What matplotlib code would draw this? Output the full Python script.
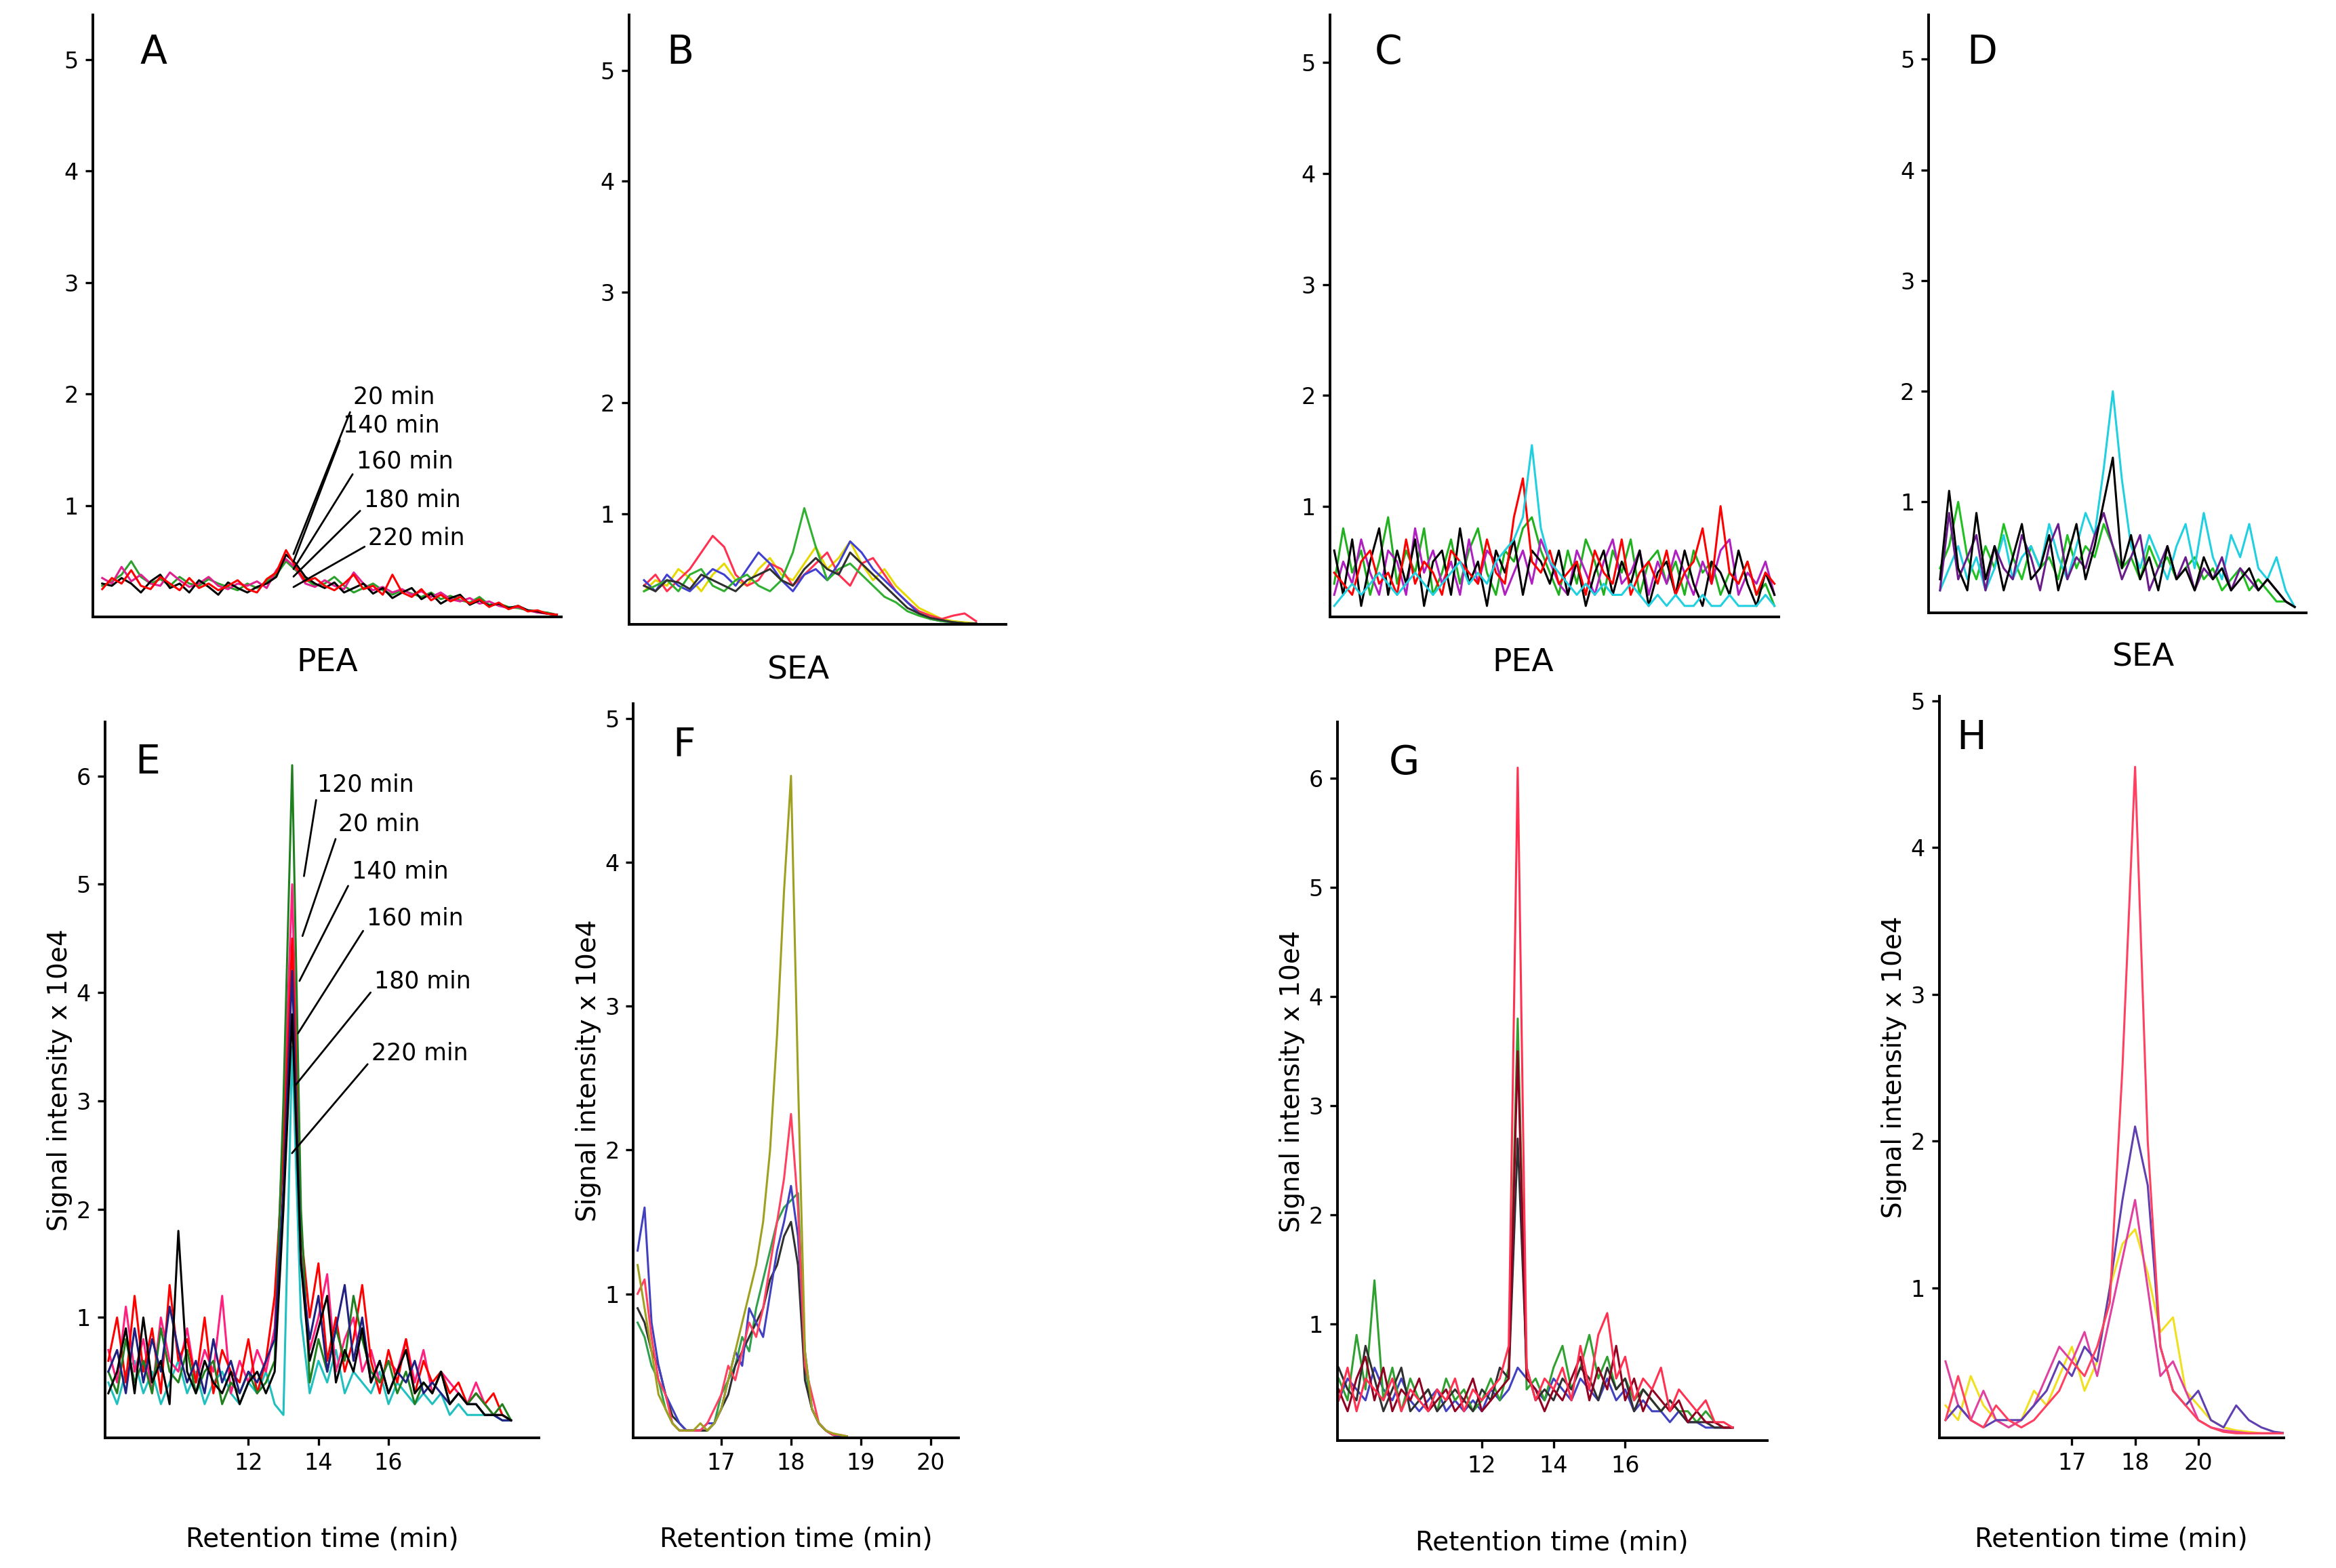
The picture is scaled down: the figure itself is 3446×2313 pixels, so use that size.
import numpy as np
import matplotlib
matplotlib.use("Agg")
import matplotlib.pyplot as plt

plt.rcParams['font.family'] = ['DejaVu Sans']

# ---------------- data ----------------
a_blk = [0.30,0.28,0.35,0.30,0.22,0.32,0.38,0.26,0.30,0.22,0.33,0.27,0.20,0.31,0.26,0.22,0.27,0.30,0.36,0.56,0.48,0.36,0.30,0.26,0.31,0.22,0.26,0.30,0.21,0.26,0.17,0.22,0.26,0.16,0.21,0.12,0.17,0.20,0.11,0.15,0.10,0.12,0.08,0.10,0.06,0.05,0.03,0.02]
a_red = [0.25,0.35,0.30,0.42,0.28,0.25,0.36,0.30,0.24,0.35,0.26,0.30,0.24,0.28,0.33,0.25,0.22,0.34,0.40,0.60,0.45,0.32,0.35,0.28,0.24,0.30,0.38,0.25,0.28,0.20,0.38,0.22,0.18,0.25,0.15,0.20,0.14,0.18,0.12,0.16,0.09,0.13,0.07,0.10,0.05,0.06,0.03,0.02]
a_mag = [0.35,0.30,0.45,0.32,0.38,0.30,0.28,0.40,0.33,0.27,0.30,0.36,0.28,0.25,0.30,0.28,0.32,0.26,0.42,0.52,0.44,0.30,0.27,0.33,0.28,0.25,0.40,0.30,0.24,0.27,0.22,0.25,0.20,0.23,0.18,0.22,0.16,0.14,0.17,0.12,0.14,0.10,0.08,0.09,0.06,0.04,0.03,0.02]
a_grn = [0.28,0.32,0.38,0.50,0.36,0.30,0.34,0.28,0.36,0.30,0.28,0.34,0.30,0.27,0.24,0.30,0.26,0.32,0.38,0.50,0.42,0.34,0.28,0.30,0.36,0.28,0.22,0.26,0.30,0.24,0.20,0.24,0.21,0.18,0.22,0.16,0.19,0.15,0.13,0.18,0.11,0.12,0.09,0.08,0.06,0.05,0.04,0.02]

b_yel = [0.30,0.40,0.35,0.50,0.42,0.30,0.45,0.55,0.40,0.35,0.50,0.60,0.45,0.40,0.55,0.70,0.50,0.60,0.75,0.55,0.40,0.50,0.35,0.25,0.15,0.10,0.05,0.03,0.02,0.01]
b_red = [0.35,0.45,0.30,0.40,0.50,0.65,0.80,0.70,0.45,0.35,0.40,0.55,0.50,0.35,0.45,0.55,0.65,0.45,0.35,0.55,0.60,0.45,0.30,0.20,0.12,0.08,0.05,0.08,0.10,0.03]
b_blu = [0.40,0.30,0.45,0.35,0.30,0.40,0.50,0.45,0.35,0.50,0.65,0.55,0.40,0.30,0.45,0.50,0.40,0.55,0.75,0.65,0.50,0.40,0.30,0.20,0.10,0.05,0.03,0.02,0.01,0.01]
b_grn = [0.30,0.35,0.40,0.30,0.45,0.50,0.35,0.30,0.40,0.45,0.35,0.30,0.40,0.65,1.05,0.70,0.40,0.50,0.55,0.45,0.35,0.25,0.20,0.12,0.08,0.05,0.03,0.02,0.01,0.01]
b_blk = [0.35,0.30,0.40,0.38,0.32,0.45,0.40,0.35,0.30,0.40,0.45,0.50,0.40,0.35,0.50,0.60,0.50,0.45,0.65,0.55,0.45,0.35,0.25,0.15,0.10,0.06,0.04,0.02,0.01,0.01]

c_blk = [0.6,0.2,0.7,0.1,0.5,0.8,0.2,0.6,0.3,0.7,0.1,0.5,0.6,0.2,0.8,0.3,0.5,0.1,0.6,0.4,0.7,0.2,0.6,0.5,0.3,0.6,0.2,0.5,0.1,0.4,0.6,0.2,0.5,0.3,0.6,0.1,0.4,0.5,0.2,0.6,0.3,0.1,0.5,0.4,0.2,0.6,0.3,0.1,0.4,0.2]
c_grn = [0.3,0.8,0.4,0.6,0.2,0.5,0.9,0.3,0.6,0.4,0.8,0.2,0.4,0.7,0.3,0.6,0.8,0.4,0.2,0.6,0.5,0.8,0.9,0.6,0.4,0.2,0.6,0.3,0.7,0.5,0.2,0.6,0.4,0.7,0.2,0.5,0.6,0.3,0.5,0.2,0.6,0.4,0.5,0.2,0.4,0.3,0.5,0.2,0.3,0.1]
c_mag = [0.2,0.5,0.3,0.7,0.4,0.2,0.6,0.5,0.2,0.8,0.4,0.6,0.3,0.5,0.2,0.7,0.3,0.6,0.5,0.2,0.4,0.6,0.3,0.7,0.5,0.3,0.2,0.6,0.4,0.2,0.5,0.7,0.3,0.4,0.6,0.2,0.5,0.3,0.6,0.4,0.2,0.5,0.3,0.6,0.7,0.2,0.4,0.3,0.5,0.2]
c_red = [0.4,0.3,0.2,0.5,0.6,0.3,0.4,0.2,0.7,0.3,0.5,0.4,0.2,0.6,0.5,0.4,0.3,0.7,0.4,0.3,0.9,1.25,0.5,0.4,0.6,0.3,0.4,0.5,0.2,0.6,0.4,0.3,0.7,0.2,0.4,0.5,0.3,0.6,0.2,0.4,0.5,0.8,0.3,1.0,0.4,0.3,0.5,0.2,0.4,0.3]
c_cyn = [0.1,0.2,0.3,0.2,0.3,0.4,0.3,0.2,0.3,0.4,0.3,0.2,0.3,0.4,0.5,0.3,0.4,0.3,0.5,0.6,0.7,0.9,1.55,0.8,0.5,0.4,0.3,0.2,0.3,0.2,0.3,0.2,0.2,0.3,0.2,0.1,0.2,0.1,0.2,0.1,0.1,0.2,0.1,0.1,0.2,0.1,0.1,0.1,0.2,0.1]

d_blk = [0.3,1.1,0.4,0.2,0.9,0.3,0.6,0.2,0.5,0.8,0.3,0.4,0.7,0.2,0.5,0.8,0.3,0.6,1.0,1.4,0.4,0.7,0.3,0.5,0.2,0.6,0.3,0.4,0.2,0.5,0.3,0.4,0.2,0.3,0.4,0.2,0.3,0.2,0.1,0.05]
d_cyn = [0.2,0.4,0.6,0.3,0.5,0.2,0.4,0.7,0.3,0.5,0.6,0.4,0.8,0.5,0.3,0.6,0.9,0.7,1.3,2.0,1.2,0.6,0.4,0.7,0.5,0.3,0.6,0.8,0.4,0.9,0.5,0.3,0.7,0.5,0.8,0.4,0.3,0.5,0.2,0.05]
d_grn = [0.4,0.6,1.0,0.5,0.3,0.6,0.4,0.8,0.5,0.3,0.6,0.4,0.5,0.3,0.7,0.4,0.6,0.5,0.8,0.6,0.4,0.5,0.3,0.6,0.4,0.5,0.3,0.4,0.5,0.3,0.4,0.2,0.3,0.4,0.2,0.3,0.2,0.1,0.1,0.05]
d_pur = [0.2,0.9,0.3,0.5,0.7,0.2,0.6,0.4,0.3,0.7,0.5,0.2,0.6,0.8,0.3,0.5,0.4,0.7,0.9,0.6,0.3,0.5,0.7,0.2,0.4,0.6,0.3,0.5,0.2,0.4,0.3,0.5,0.2,0.4,0.3,0.2,0.3,0.2,0.1,0.05]

e_time = np.arange(8.0, 19.51, 0.25)
e_grn = [0.5,0.3,0.8,0.4,0.6,0.3,0.9,0.5,0.4,0.7,0.3,0.5,0.6,0.2,0.4,0.3,0.5,0.3,0.4,0.6,3.0,6.1,2.0,0.4,0.8,0.5,0.9,0.6,1.2,0.8,0.5,0.4,0.6,0.3,0.5,0.2,0.4,0.3,0.5,0.2,0.3,0.2,0.3,0.2,0.1,0.2,0.05]
e_red = [0.6,1.0,0.4,1.2,0.5,0.9,0.3,1.3,0.6,0.8,0.4,1.0,0.3,0.7,0.5,0.4,0.8,0.3,0.6,1.2,2.5,4.5,1.8,1.0,1.5,0.6,1.0,0.5,0.8,1.3,0.6,0.3,0.7,0.4,0.8,0.3,0.6,0.4,0.5,0.3,0.4,0.2,0.3,0.2,0.3,0.1,0.05]
e_blk = [0.3,0.5,0.9,0.3,1.0,0.4,0.6,0.2,1.8,0.5,0.3,0.6,0.4,0.3,0.5,0.2,0.4,0.5,0.3,0.5,2.0,3.8,1.5,0.6,0.9,1.2,0.4,0.7,0.5,0.9,0.4,0.6,0.3,0.5,0.7,0.3,0.4,0.3,0.5,0.2,0.3,0.2,0.2,0.1,0.1,0.1,0.05]
e_cyn = [0.4,0.2,0.5,0.6,0.3,0.5,0.2,0.4,0.6,0.3,0.5,0.2,0.4,0.5,0.3,0.2,0.4,0.3,0.5,0.2,0.1,3.5,1.0,0.3,0.6,0.4,0.7,0.3,0.5,0.4,0.3,0.5,0.2,0.4,0.3,0.2,0.3,0.2,0.3,0.1,0.2,0.1,0.1,0.1,0.1,0.05,0.05]
e_nav = [0.5,0.7,0.3,0.9,0.4,0.8,0.5,1.1,0.7,0.4,0.6,0.3,0.8,0.4,0.6,0.3,0.5,0.4,0.6,0.8,2.2,4.2,1.5,0.8,1.2,0.5,0.9,1.3,0.6,1.0,0.4,0.6,0.3,0.5,0.4,0.6,0.3,0.4,0.3,0.2,0.3,0.2,0.2,0.1,0.1,0.05,0.05]
e_mag = [0.7,0.4,1.1,0.5,0.8,0.3,1.0,0.6,0.5,0.9,0.4,0.7,0.5,1.2,0.3,0.6,0.4,0.7,0.5,0.9,2.8,5.0,1.6,0.7,1.0,1.4,0.5,0.8,1.0,0.5,0.7,0.4,0.6,0.5,0.8,0.4,0.7,0.3,0.5,0.4,0.3,0.2,0.4,0.2,0.1,0.1,0.05]

f_time = np.arange(15.8, 18.81, 0.1)
f_olv = [1.2,0.9,0.6,0.3,0.2,0.1,0.05,0.05,0.05,0.1,0.05,0.1,0.2,0.4,0.6,0.8,1.0,1.2,1.5,2.0,2.8,3.8,4.6,2.5,0.6,0.2,0.1,0.05,0.03,0.02,0.01]
f_red = [1.0,1.1,0.7,0.4,0.3,0.1,0.05,0.05,0.05,0.05,0.1,0.2,0.3,0.5,0.4,0.6,0.8,0.7,0.9,1.2,1.5,1.8,2.25,1.6,0.5,0.3,0.1,0.05,0.02,0.02,0.01]
f_blu = [1.3,1.6,0.8,0.5,0.3,0.2,0.1,0.05,0.05,0.05,0.1,0.1,0.2,0.4,0.6,0.5,0.9,0.8,0.7,1.0,1.3,1.5,1.75,1.4,0.6,0.2,0.1,0.05,0.02,0.01,0.01]
f_grn = [0.8,0.7,0.5,0.4,0.2,0.1,0.05,0.05,0.05,0.05,0.05,0.1,0.3,0.4,0.5,0.7,0.6,0.9,1.1,1.3,1.5,1.6,1.65,1.7,0.5,0.2,0.1,0.05,0.02,0.01,0.01]
f_blk = [0.9,0.8,0.6,0.5,0.3,0.15,0.1,0.05,0.05,0.05,0.05,0.1,0.2,0.3,0.5,0.6,0.7,0.8,0.9,1.1,1.2,1.4,1.5,1.2,0.4,0.2,0.1,0.05,0.02,0.01,0.01]

g_time = np.arange(8.0, 19.01, 0.25)
g_red = [0.3,0.6,0.2,0.5,0.4,0.3,0.5,0.2,0.4,0.3,0.2,0.4,0.3,0.5,0.2,0.4,0.3,0.4,0.5,0.8,6.1,0.6,0.3,0.5,0.4,0.6,0.3,0.8,0.4,0.9,1.1,0.5,0.7,0.3,0.5,0.4,0.6,0.2,0.4,0.3,0.2,0.3,0.1,0.1,0.05]
g_grn = [0.5,0.3,0.9,0.4,1.4,0.3,0.6,0.2,0.5,0.3,0.4,0.2,0.5,0.3,0.4,0.2,0.3,0.5,0.3,0.6,3.8,0.4,0.5,0.3,0.6,0.8,0.4,0.6,0.9,0.5,0.7,0.4,0.5,0.3,0.4,0.3,0.2,0.3,0.2,0.2,0.1,0.2,0.1,0.05,0.05]
g_drd = [0.4,0.2,0.5,0.7,0.3,0.6,0.2,0.4,0.3,0.5,0.2,0.3,0.4,0.2,0.3,0.5,0.2,0.3,0.4,0.5,3.5,0.5,0.4,0.2,0.4,0.3,0.5,0.7,0.3,0.6,0.4,0.8,0.3,0.5,0.2,0.4,0.3,0.2,0.3,0.1,0.2,0.1,0.1,0.05,0.05]
g_blk = [0.6,0.4,0.3,0.8,0.5,0.2,0.4,0.6,0.2,0.3,0.4,0.2,0.3,0.4,0.3,0.2,0.4,0.3,0.6,0.5,2.7,0.6,0.3,0.4,0.3,0.5,0.4,0.6,0.5,0.3,0.6,0.4,0.5,0.2,0.4,0.3,0.2,0.3,0.2,0.1,0.1,0.1,0.05,0.05,0.05]
g_blu = [0.3,0.5,0.4,0.3,0.6,0.4,0.3,0.5,0.3,0.2,0.3,0.4,0.2,0.3,0.2,0.3,0.2,0.4,0.3,0.4,0.6,0.5,0.4,0.3,0.5,0.4,0.3,0.5,0.4,0.3,0.5,0.3,0.4,0.2,0.3,0.2,0.2,0.1,0.2,0.1,0.1,0.05,0.05,0.05,0.05]

h_time = np.arange(15.0, 20.41, 0.2)
h_red = [0.1,0.4,0.1,0.05,0.2,0.1,0.05,0.1,0.2,0.3,0.5,0.4,0.6,0.9,2.5,4.55,2.0,0.6,0.3,0.2,0.1,0.05,0.02,0.01,0.01,0.01,0.01,0.01]
h_mag = [0.5,0.2,0.1,0.3,0.1,0.05,0.1,0.2,0.4,0.6,0.5,0.7,0.4,0.8,1.2,1.6,1.0,0.4,0.5,0.3,0.1,0.05,0.03,0.02,0.01,0.01,0.01,0.01]
h_pur = [0.1,0.2,0.1,0.05,0.1,0.1,0.1,0.2,0.3,0.5,0.4,0.6,0.5,1.0,1.6,2.1,1.7,0.6,0.3,0.2,0.3,0.1,0.05,0.2,0.1,0.05,0.02,0.01]
h_yel = [0.2,0.1,0.4,0.2,0.1,0.05,0.1,0.3,0.2,0.4,0.6,0.3,0.5,1.0,1.3,1.4,1.1,0.7,0.8,0.3,0.2,0.1,0.05,0.03,0.02,0.01,0.01,0.01]

a_labels = ["20 min", "140 min", "160 min", "180 min", "220 min"]
e_labels = ["120 min", "20 min", "140 min", "160 min", "180 min", "220 min"]

# ---------------- layout ----------------
W, H = 1560.0, 1047.0
fig = plt.figure(figsize=(17.23, 11.565), dpi=200)

def ax_at(l, r, t, b):
    ax = fig.add_axes([l / W, 1 - b / H, (r - l) / W, (b - t) / H])
    for s in ("top", "right"):
        ax.spines[s].set_visible(False)
    ax.spines["left"].set_linewidth(1.4)
    ax.spines["bottom"].set_linewidth(1.4)
    ax.tick_params(labelsize=12, width=1.2, length=4)
    return ax

LW = 1.1

def top_panel(l, r, t, b, ymax, series, x0, x1, letter, name=None):
    ax = ax_at(l, r, t, b)
    for vals, col in series:
        x = np.linspace(x0, x1, len(vals))
        ax.plot(x, vals, color=col, lw=LW)
    ax.set_xlim(0, 1)
    ax.set_ylim(0, ymax)
    ax.set_yticks([1, 2, 3, 4, 5])
    ax.set_xticks([])
    ax.text(0.1, 0.97, letter, transform=ax.transAxes, fontsize=21, va="top")
    if name:
        ax.text(0.5, -0.05, name, transform=ax.transAxes, fontsize=17, ha="center", va="top")
    return ax

axA = top_panel(62, 375, 10, 412, 5.4,
                [(a_grn, "#2ca02c"), (a_mag, "#e0208f"), (a_blk, "black"), (a_red, "red")],
                0.02, 0.99, "A", "PEA")
# annotation lines A
ytext = [265, 284, 308, 334, 359]
xtext = [236, 229, 238, 243, 246]
ypts = [370, 375, 380, 385, 392]
for lab, xt, yt, yp in zip(a_labels, xtext, ytext, ypts):
    axA.annotate(lab, xy=((196 - 62) / 313, (412 - yp) / 402),
                 xytext=((xt - 62) / 313, (412 - yt) / 402),
                 xycoords="axes fraction", textcoords="axes fraction",
                 fontsize=12.5, va="center", ha="left",
                 arrowprops=dict(arrowstyle="-", lw=1.0, color="black", shrinkA=0, shrinkB=0,
                                 relpos=(0, 0.2)))

top_panel(420, 672, 10, 417, 5.5,
          [(b_yel, "#e6d800"), (b_red, "#ff3050"), (b_blu, "#4040d0"), (b_grn, "#30b030"), (b_blk, "#303030")],
          0.04, 0.92, "B", "SEA")
axB = fig.axes[-1]
axB.texts[-1].set_position((0.45, -0.05))

top_panel(888, 1188, 10, 412, 5.43,
          [(c_grn, "#20b020"), (c_mag, "#b020c0"), (c_blk, "black"), (c_red, "red"), (c_cyn, "#20d0e0")],
          0.01, 0.99, "C", "PEA")
axC = fig.axes[-1]
axC.texts[-1].set_position((0.43, -0.05))

top_panel(1288, 1540, 10, 409, 5.4,
          [(d_grn, "#20c020"), (d_cyn, "#20d0e0"), (d_pur, "#6a1b8a"), (d_blk, "black")],
          0.03, 0.97, "D", "SEA")
axD = fig.axes[-1]
axD.texts[-1].set_position((0.57, -0.05))

YL = "Signal intensity x 10e4"
XL = "Retention time (min)"

def bottom_panel(l, r, t, b, xlim, ylim, yticks, xticks, xtlabels, series, t_arr, letter, lx):
    ax = ax_at(l, r, t, b)
    for vals, col in series:
        ax.plot(t_arr, vals, color=col, lw=LW)
    ax.set_xlim(*xlim)
    ax.set_ylim(*ylim)
    ax.set_yticks(yticks)
    ax.set_xticks(xticks)
    ax.set_xticklabels(xtlabels)
    ax.set_ylabel(YL, fontsize=14, labelpad=2)
    ax.text(lx, 0.97, letter, transform=ax.transAxes, fontsize=21, va="top")
    ax.set_xlabel(XL, fontsize=14, labelpad=28)
    return ax

axE = bottom_panel(70, 360, 482, 960, (7.9, 20.3), (-0.11, 6.5), [1, 2, 3, 4, 5, 6],
                   [12, 14, 16], ["12", "14", "16"],
                   [(e_cyn, "#20c0c0"), (e_mag, "#ff2080"), (e_red, "red"), (e_grn, "#208020"),
                    (e_nav, "#202080"), (e_blk, "black")],
                   e_time, "E", 0.07)
ex_t = [212, 226, 235, 245, 250, 248]
ey_t = [524, 550, 582, 613, 655, 703]
ex_p = [203, 202, 200, 199, 197, 195]
ey_p = [585, 625, 655, 690, 725, 770]
for lab, xt, yt, xp, yp in zip(e_labels, ex_t, ey_t, ex_p, ey_p):
    axE.annotate(lab, xy=((xp - 70) / 290, (960 - yp) / 478),
                 xytext=((xt - 70) / 290, (960 - yt) / 478),
                 xycoords="axes fraction", textcoords="axes fraction",
                 fontsize=12.5, va="center", ha="left",
                 arrowprops=dict(arrowstyle="-", lw=1.0, color="black", shrinkA=0, shrinkB=0,
                                 relpos=(0, 0.2)))

bottom_panel(423, 640, 470, 960, (15.74, 20.4), (0, 5.1), [1, 2, 3, 4, 5],
             [17, 18, 19, 20], ["17", "18", "19", "20"],
             [(f_grn, "#30a050"), (f_blk, "#303030"), (f_blu, "#4040c0"), (f_red, "#ff4060"), (f_olv, "#a0a020")],
             f_time, "F", 0.12)

bottom_panel(893, 1180, 482, 962, (7.96, 19.96), (-0.07, 6.52), [1, 2, 3, 4, 5, 6],
             [12, 14, 16], ["12", "14", "16"],
             [(g_blu, "#4040c0"), (g_grn, "#30a030"), (g_blk, "#303030"), (g_drd, "#900020"), (g_red, "#ff3050")],
             g_time, "G", 0.12)

bottom_panel(1295, 1525, 465, 960, (14.9, 20.35), (-0.02, 5.03), [1, 2, 3, 4, 5],
             [17, 18, 19], ["17", "18", "20"],
             [(h_yel, "#f0e020"), (h_mag, "#e040a0"), (h_pur, "#6040b0"), (h_red, "#ff4060")],
             h_time, "H", 0.05)

fig.savefig("out.png", dpi=200)
